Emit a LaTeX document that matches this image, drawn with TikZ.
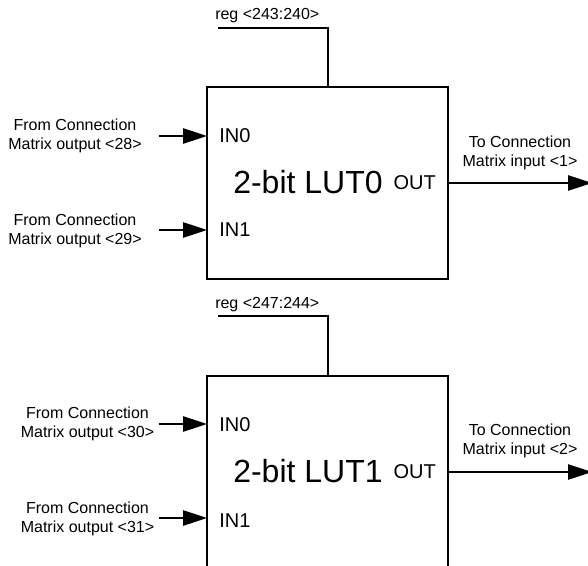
\documentclass[tikz,border=0pt]{standalone}
\usepackage{fontspec}
\setmainfont{Liberation Sans}
\usetikzlibrary{arrows.meta}

\tikzset{
  lbl/.style={font=\fontsize{12}{14.25}\selectfont,align=center,inner sep=0pt},
  portlbl/.style={font=\fontsize{15}{18}\selectfont,inner sep=0pt},
  lutname/.style={font=\fontsize{24}{28}\selectfont,inner sep=0pt},
  lutbox/.style={draw,line width=1.5pt,minimum width=180.75pt,minimum height=143.6pt,anchor=north west,outer sep=0pt,inner sep=0pt},
  wire/.style={line width=1.2pt},
  sig/.style={wire,-{Triangle[length=18pt,width=11.5pt]}},
}

\begin{document}
\begin{tikzpicture}[x=0.75pt,y=-0.75pt]
\useasboundingbox (0,0) rectangle (588,566);
\clip (0,0) rectangle (588,566);

\node[lutbox] (lut0) at (207,87.5) {};
\node[lutname,anchor=base west] (name0) at (233,194) {2-bit LUT0};
\node[portlbl,anchor=base west] (in00) at (219,143) {IN0};
\node[portlbl,anchor=base west] (in01) at (219,237) {IN1};
\node[portlbl,anchor=base east] (out0) at (436,190) {OUT};

\node[lbl,anchor=base west] (regtxt0) at (215,20) {reg <243:240>};
\coordinate (reg0) at (218,28);
\coordinate (tap0) at (328,87.5);
\draw[wire] (reg0) -| (tap0);

\node[lbl] (src00) at (75,136) {From Connection\\Matrix output <28>};
\node[lbl] (src01) at (75,231) {From Connection\\Matrix output <29>};
\coordinate (a00) at (159,136);
\coordinate (a01) at (159,230);
\draw[sig] (a00) -- (lut0.west |- a00);
\draw[sig] (a01) -- (lut0.west |- a01);

\coordinate (end0) at (592,183);
\draw[sig] (lut0.east |- end0) -- (end0);
\node[lbl] (dst0) at (520,153) {To Connection\\Matrix input <1>};

\node[lutbox] (lut1) at (207,375.5) {};
\node[lutname,anchor=base west] (name1) at (233,482) {2-bit LUT1};
\node[portlbl,anchor=base west] (in10) at (219,431) {IN0};
\node[portlbl,anchor=base west] (in11) at (219,527) {IN1};
\node[portlbl,anchor=base east] (out1) at (436,478) {OUT};

\node[lbl,anchor=base west] (regtxt1) at (215,308) {reg <247:244>};
\coordinate (reg1) at (218,316);
\coordinate (tap1) at (328,375.5);
\draw[wire] (reg1) -| (tap1);

\node[lbl] (src10) at (87.5,424) {From Connection\\Matrix output <30>};
\node[lbl] (src11) at (87.5,519) {From Connection\\Matrix output <31>};
\coordinate (a10) at (159,424);
\coordinate (a11) at (159,518);
\draw[sig] (a10) -- (lut1.west |- a10);
\draw[sig] (a11) -- (lut1.west |- a11);

\coordinate (end1) at (592,472);
\draw[sig] (lut1.east |- end1) -- (end1);
\node[lbl] (dst1) at (520,441) {To Connection\\Matrix input <2>};
\end{tikzpicture}
\end{document}
